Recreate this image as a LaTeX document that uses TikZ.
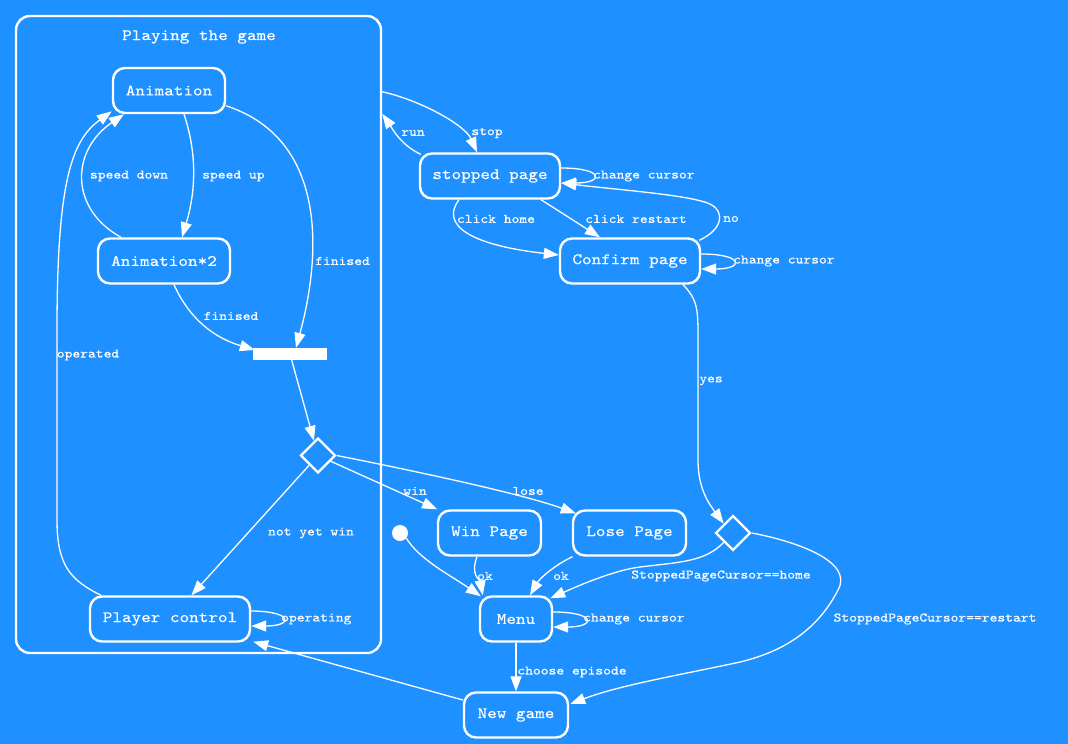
\documentclass[tikz,border=0pt]{standalone}
\usepackage{fontspec}
\newfontfamily\courfont{lmmono10-regular.otf}[FakeStretch=1.143,FakeBold=0.3]
\usetikzlibrary{arrows.meta,shapes.geometric}
\definecolor{bg}{HTML}{1E90FF}

\begin{document}
\begin{tikzpicture}[x=1pt,y=-1pt,
  state/.style={draw=white, line width=2.4pt, rounded corners=12pt,
    minimum height=45pt, inner sep=0pt, text=white,
    font=\courfont\fontsize{16}{18}\selectfont},
  cluster/.style={draw=white, line width=2.4pt, rounded corners=14pt, inner sep=0pt},
  choice/.style={diamond, draw=white, line width=2.4pt, aspect=1,
    minimum width=35pt, minimum height=35pt, inner sep=0pt},
  lbl/.style={text=white, inner sep=0pt, font=\courfont\fontsize{13}{15}\selectfont},
  ttl/.style={text=white, inner sep=0pt, font=\courfont\fontsize{16}{18}\selectfont},
  link/.style={draw=white, line width=1.3pt, -{Triangle[length=15pt,width=11pt]}},
]
% background and page size
\fill[bg] (0,0) rectangle (1068,744);
\useasboundingbox (0,0) rectangle (1068,744);

% composite state
\node[cluster, minimum width=365pt, minimum height=637pt] (play) at (198.5,334.5) {};
\node[ttl] (playtitle) at (199,37) {Playing the game};

% states
\node[state, minimum width=112pt] (anim)  at (169,90.5) {Animation};
\node[state, minimum width=132pt] (anim2) at (164,261) {Animation*2};
\node[fill=white, minimum width=74pt, minimum height=12pt, inner sep=0pt] (bar) at (290,354) {};
\node[choice] (d1) at (318,455.5) {};
\node[state, minimum width=160pt] (pc) at (170,619) {Player control};
\node[state, minimum width=140pt] (sp) at (490,176) {stopped page};
\node[state, minimum width=140pt] (cp) at (630,261) {Confirm page};
\node[state, minimum width=103pt] (win) at (489.5,533) {Win Page};
\node[state, minimum width=113pt] (lose) at (629.5,533) {Lose Page};
\node[circle, fill=white, minimum size=16pt, inner sep=0pt] (init) at (400,533) {};
\node[state, minimum width=72pt] (menu) at (516,619) {Menu};
\node[state, minimum width=104pt] (ng) at (516,715) {New game};
\node[choice] (d2) at (733,533) {};

% transitions inside the composite state
\draw[link] ([xshift=15pt]anim.south) .. controls +(15,45) and +(12,-40) .. ([xshift=18pt]anim2.north);
\draw[link] ([xshift=-43pt]anim2.north) .. controls +(-51,-28) and +(-54,37) .. ([xshift=-45pt]anim.south);
\draw[link] ([xshift=-69pt]pc.north) .. controls (70,580) and (57,565) .. (57,520)
  -- (57,330) .. controls (57,180) and (72,140) .. (anim.200);
\draw[link] (anim.-15) .. controls (330,140) and (320,260) .. ([xshift=6pt]bar.north);
\draw[link] ([xshift=10pt]anim2.south) .. controls (190,320) and (215,338) .. ([shift={(2,-4)}]bar.west);
\draw[link] (bar) -- (d1);
\draw[link] (d1) -- (pc);
\draw[link] ([shift={(-1,-8)}]pc.east) .. controls +(43,0) and +(43,0) .. ([shift={(0,7)}]pc.east);

% transitions of the decision
\draw[link] (d1) -- (win);
\draw[link] (d1.east) .. controls (400,468) and (520,493) .. ([shift={(4,4)}]lose.north west);

% pause menu
\draw[link] ([shift={(0,77)}]play.north east) .. controls (420,100) and (465,125) .. ([xshift=-13pt]sp.north);
\draw[link] ([shift={(2,2)}]sp.north west) .. controls (400,145) and (390,125) .. ([shift={(0,99)}]play.north east);
\draw[link] ([shift={(0,-8)}]sp.east) .. controls +(43,0) and +(43,0) .. ([shift={(0,7)}]sp.east);
\draw[link] ([xshift=-31pt]sp.south) .. controls (440,225) and (470,245) .. ([shift={(0,-6)}]cp.west);
\draw[link] ([xshift=51pt]sp.south) -- ([xshift=-30pt]cp.north);
\draw[link] ([shift={(-2,3)}]cp.north east) .. controls (722,230) and (726,212) .. (710,204)
  .. controls (690,195) and (620,190) .. ([shift={(0,7)}]sp.east);
\draw[link] ([shift={(0,-7)}]cp.east) .. controls +(43,0) and +(43,0) .. ([shift={(0,8)}]cp.east);
\draw[link] ([xshift=53pt]cp.south) .. controls (698,300) and (698,310) .. (698,340)
  -- (698,460) .. controls (698,490) and (710,505) .. (d2.north west);
\draw[link] (d2.south west) .. controls (705,562) and (680,562) .. (640,567)
  .. controls (615,570) and (580,585) .. ([shift={(-3,3)}]menu.north east);
\draw[link] (d2.east) .. controls (790,540) and (855,560) .. (838,590)
  .. controls (820,625) and (790,650) .. (740,662)
  .. controls (680,675) and (620,685) .. ([shift={(1,-11)}]ng.east);

% menu
\draw[link] ([xshift=-12.5pt]win.south) .. controls (470,575) and (480,580) .. ([shift={(4,0)}]menu.north west);
\draw[link] ([xshift=-57pt]lose.south) .. controls (555,565) and (540,578) .. ([xshift=14pt]menu.north);
\draw[link] (init.-40) .. controls (420,560) and (450,575) .. ([shift={(2,1)}]menu.north west);
\draw[link] ([shift={(0,-7)}]menu.east) .. controls +(43,0) and +(43,0) .. ([shift={(0,8)}]menu.east);
\draw[link] (menu) -- (ng);
\draw[link] ([shift={(0,-15)}]ng.west) -- ([shift={(2,-1)}]pc.south east);

% transition labels
\node[lbl] (l1) at (129,176) {speed down};
\node[lbl, anchor=west] (l2) at (202,176) {speed up};
\node[lbl] (l3) at (88,355) {operated};
\node[lbl, anchor=west] (l4) at (315,261) {finised};
\node[lbl] (l5) at (231,316) {finised};
\node[lbl] (l6) at (311,533) {not yet win};
\node[lbl] (l7) at (415,491) {win};
\node[lbl] (l8) at (528,491) {lose};
\node[lbl] (l9) at (487,133) {stop};
\node[lbl] (l10) at (413,133) {run};
\node[lbl, anchor=west] (l11) at (593,176) {change cursor};
\node[lbl] (l12) at (496,219) {click home};
\node[lbl] (l13) at (636,219) {click restart};
\node[lbl] (l14) at (731,219) {no};
\node[lbl, anchor=west] (l15) at (733,261) {change cursor};
\node[lbl] (l16) at (711,381) {yes};
\node[lbl] (l17) at (721,576) {StoppedPageCursor==home};
\node[lbl] (l18) at (935,619) {StoppedPageCursor==restart};
\node[lbl] (l19) at (485,576) {ok};
\node[lbl] (l20) at (561,576) {ok};
\node[lbl, anchor=west] (l21) at (583,619) {change cursor};
\node[lbl] (l22) at (572,672) {choose episode};
\node[lbl, anchor=west] (l23) at (281,619) {operating};
\end{tikzpicture}
\end{document}
